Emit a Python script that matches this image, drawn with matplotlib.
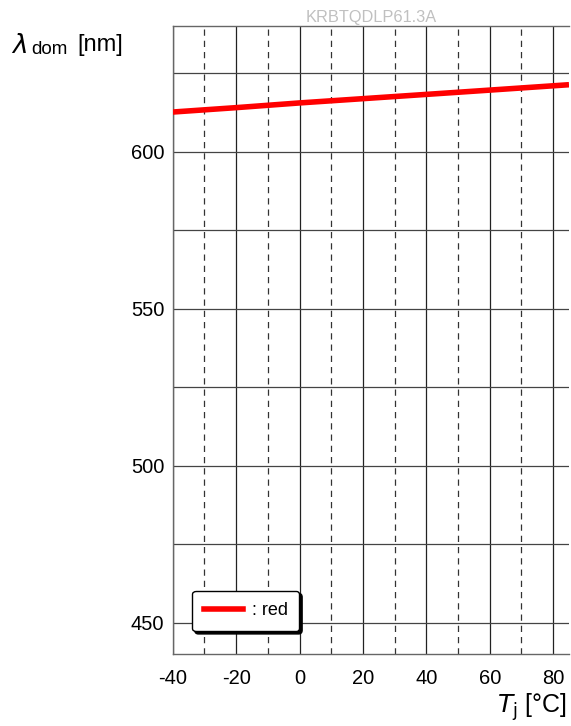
import numpy as np
import matplotlib.pyplot as plt
from matplotlib.lines import Line2D

plt.rcParams['font.family'] = ['Liberation Sans', 'DejaVu Sans']
plt.rcParams['axes.unicode_minus'] = False

# junction temperature vs dominant wavelength
tj = [-40, -20, 0, 25, 50, 85]
lam_dom = [612.6, 614.0, 615.5, 617.2, 618.9, 621.3]

xmajor = [-40, -20, 0, 20, 40, 60, 80]
xdashed = [-30, -10, 10, 30, 50, 70]
ylines = [450, 475, 500, 525, 550, 575, 600, 625]
yticks_ = [450, 500, 550, 600]

fig = plt.figure(figsize=(5.71, 7.26), dpi=100)
ax = fig.add_axes([172.7/571, 1 - 654/726, (569 - 172.7)/571, (654 - 26)/726])

ax.set_xlim(-40, 85)
ax.set_ylim(440, 640)

for x in xmajor:
    ax.axvline(x, color='#222222', lw=0.9, zorder=1)
for x in xdashed:
    ax.axvline(x, color='#333333', lw=0.9, ls=(0, (5, 4)), zorder=1)
for y in ylines:
    ax.axhline(y, color='#444444', lw=0.9, zorder=1)

ax.plot(tj, lam_dom, color='red', lw=4, solid_capstyle='butt', zorder=3)

for s in ax.spines.values():
    s.set_color('#666666')
    s.set_linewidth(1.0)
ax.spines['right'].set_visible(False)

ax.set_xticks(xmajor)
ax.set_yticks(yticks_)
ax.tick_params(axis='y', length=0, labelsize=14.5, pad=6)
ax.tick_params(axis='x', length=0, labelsize=14.5, pad=11)

ax.set_title('KRBTQDLP61.3A', color='#c0c0c0', fontsize=11.8, pad=3)

fig.text(11/571, 1 - 46/726, r'$\lambda$', fontsize=19, va='center', ha='left')
fig.text(31/571, 1 - 50/726, 'dom', fontsize=13.5, va='center', ha='left')
fig.text(77/571, 1 - 45/726, '[nm]', fontsize=17, va='center', ha='left')

fig.text(567/571, 1 - 707/726, r'$T_{\mathrm{j}}$ [°C]', fontsize=18,
         va='center', ha='right')

handle = Line2D([], [], color='red', lw=4)
leg = ax.legend([handle], [': red'], loc='lower left',
                bbox_to_anchor=(0.026, 0.022), fontsize=13, fancybox=True,
                shadow={'color': 'black', 'alpha': 1.0},
                handlelength=2.2, handletextpad=0.45,
                borderpad=0.65, framealpha=1)
leg.get_frame().set_edgecolor('black')
leg.get_frame().set_linewidth(1.0)
leg.set_zorder(5)

fig.savefig('out.png', dpi=100)
